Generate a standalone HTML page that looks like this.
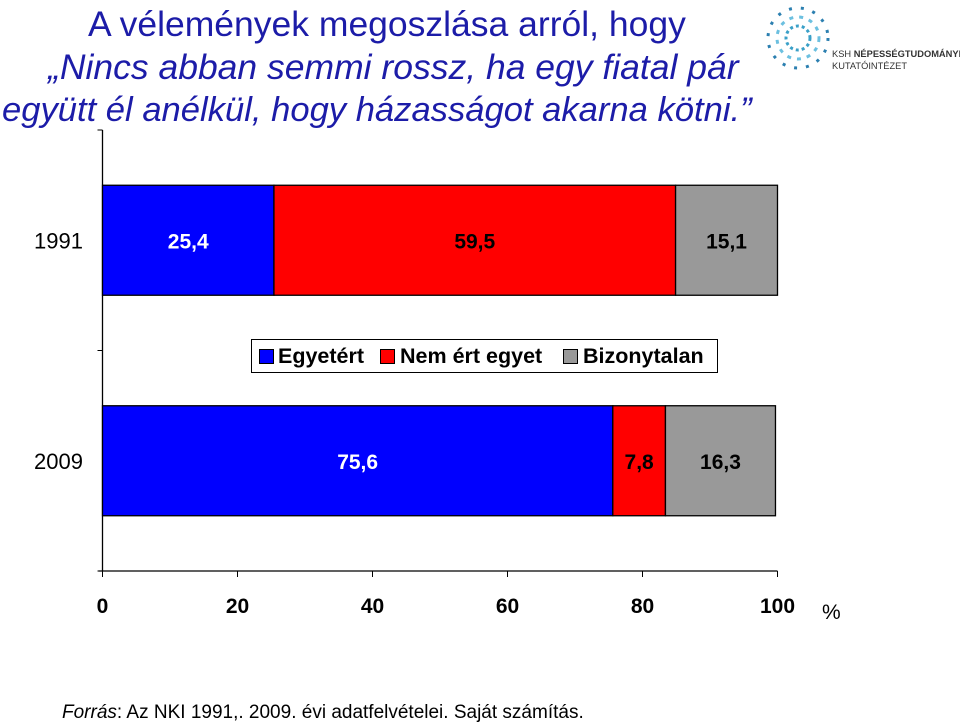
<!DOCTYPE html>
<html><head><meta charset="utf-8"><style>
body{margin:0;background:#fff;width:960px;height:726px;overflow:hidden;font-family:"Liberation Sans",sans-serif;position:relative}
.t{position:absolute;color:#1c1ca8;font-size:34px;white-space:nowrap;line-height:40px}
.sq{position:absolute;top:9px;width:13px;height:13px;border:1px solid #000}
.lt{position:absolute;top:0;font-size:21.5px;font-weight:bold;line-height:32px}
</style></head><body>
<div class="t" style="left:88px;top:4px;font-size:35.5px">A vélemények megoszlása arról, hogy</div>
<div class="t" style="left:48px;top:47px;font-style:italic;font-size:35.5px">„Nincs abban semmi rossz, ha egy fiatal pár</div>
<div class="t" style="left:2px;top:90px;font-style:italic;font-size:34.6px">együtt él anélkül, hogy házasságot akarna kötni.”</div>
<div style="position:absolute;left:764px;top:4px;width:196px;height:70px">
<svg width="70" height="68"><g stroke="#3aa0c8" stroke-width="3" fill="none"><circle cx="34" cy="34" r="12" stroke-dasharray="3 3"/><circle cx="34" cy="34" r="21" stroke-dasharray="4 6" stroke="#6cc0e0"/><circle cx="34" cy="34" r="30" stroke-dasharray="3 9" stroke="#2b7fb0"/></g></svg>
<div style="position:absolute;left:68px;top:44px;font-size:9.3px;color:#333;line-height:12px;white-space:nowrap">KSH <b>NÉPESSÉGTUDOMÁNYI</b><br>KUTATÓINTÉZET</div></div>
<svg id="c" width="960" height="726" style="position:absolute;left:0;top:0"></svg>
<div style="position:absolute;left:251px;top:339px;width:465px;height:32px;border:1.5px solid #000;background:#fff;white-space:nowrap">
<span class="sq" style="left:7px;background:#00f"></span><span class="lt" style="left:26px">Egyetért</span>
<span class="sq" style="left:128px;background:#f00"></span><span class="lt" style="left:148px">Nem ért egyet</span>
<span class="sq" style="left:311px;background:#999"></span><span class="lt" style="left:331px">Bizonytalan</span></div>
<div style="position:absolute;left:62px;top:702px;font-size:19px;white-space:nowrap"><i>Forrás</i>: Az NKI 1991,. 2009. évi adatfelvételei. Saját számítás.</div>
<script>
const years=["1991","2009"];
const agree=[25.4,75.6];
const disagree=[59.5,7.8];
const unsure=[15.1,16.3];
const xticks=[0,20,40,60,80,100];
const svg=document.getElementById('c');
const NS='http://www.w3.org/2000/svg';
const x0=102.5,x1=777.5,yTop=130,yBot=571;
const X=v=>x0+(x1-x0)*v/100;
const bandH=(yBot-yTop)/years.length;
function el(t,a){const e=document.createElementNS(NS,t);for(const k in a)e.setAttribute(k,a[k]);svg.appendChild(e);return e;}
const ax=el('line',{x1:x0,y1:yTop,x2:x0,y2:yBot,stroke:'#000','stroke-width':1.3});


const xa=el('line',{x1:x0-4,y1:yBot,x2:x1,y2:yBot,stroke:'#000','stroke-width':1.3});


[yTop,yTop+bandH,yBot].forEach(y=>{el('line',{x1:x0-5,y1:y,x2:x0,y2:y,stroke:'#000'});});
xticks.forEach(v=>{
 el('line',{x1:X(v),y1:yBot,x2:X(v),y2:yBot+6,stroke:'#000'});
 const t=el('text',{x:X(v),y:yBot+42,'text-anchor':'middle','font-size':21,'font-weight':'bold'});t.textContent=v;
 
 
});
const pc=el('text',{x:822,y:619,'font-size':21});pc.textContent='%';


const series=[[agree,'#0000ff','#fff','agree'],[disagree,'#ff0000','#000','disagree'],[unsure,'#999999','#000','unsure']];
years.forEach((yr,i)=>{
 const yc=yTop+bandH*(i+0.5),h=110;
 const yl=el('text',{x:34,y:yc+8,'font-size':22});yl.textContent=yr;
 
 
 let acc=0;
 series.forEach(([arr,col,tc,nm])=>{
  const v=arr[i];
  const r=el('rect',{x:X(acc),y:yc-h/2,width:X(acc+v)-X(acc),height:h,fill:col,stroke:'#000','stroke-width':1.3});
  
  
  const t=el('text',{x:(X(acc)+X(acc+v))/2,y:yc+8,'text-anchor':'middle','font-size':21,'font-weight':'bold',fill:tc});
  t.textContent=v.toFixed(1).replace('.',',');
  
  
  acc+=v;
 });
});
</script>
</body></html>
